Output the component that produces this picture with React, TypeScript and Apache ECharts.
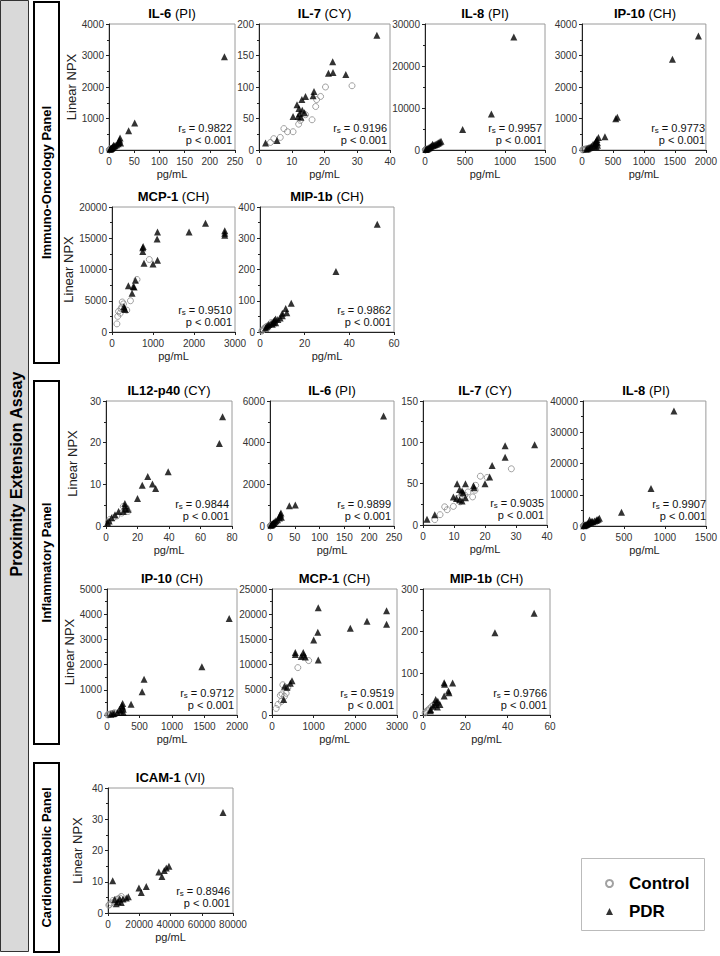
import React, { useEffect, useRef } from "react";
import * as echarts from "echarts";

// ---------- data (x = pg/mL, y = Linear NPX) ----------
const il6IoControl = [[0.5,5],[1,10],[1.5,15],[2,20],[2.5,28],[3,30],[4,40],[1,8]];
const il6IoPdr = [[229,2960],[51,860],[39,610],[22,380],[21,320],[20,260],[23,220],[18,200],[15,170],[12,140],[10,120],[8,100],[7,80],[6,70],[5,55],[4,45],[3,35],[2,25],[9,150],[19,240]];

const il7IoControl = [[3.5,12],[4.5,18],[6.5,20],[7.6,34],[8.7,29],[10.4,29],[12.1,41],[12.6,47],[14.2,56],[16.2,48],[17.3,69],[17.6,80],[18.8,85],[20.3,100],[28.4,102]];
const il7IoPdr = [[2,11],[5.5,15],[10.4,53],[11.6,72],[11.9,53],[12.4,58],[13.2,63],[13.9,59],[13.1,80],[14.2,85],[12.8,52],[12.2,66],[16.5,86],[16.8,93],[21.2,122],[22.6,123],[22.5,140],[26.5,120],[36,182]];

const il8IoControl = [[3,30],[5,50],[8,60],[10,80],[12,90],[15,120],[20,150],[25,200]];
const il8IoPdr = [[1110,26900],[830,8600],[470,4900],[200,2100],[185,1900],[170,1750],[160,1600],[145,1450],[130,1300],[115,1200],[95,1350],[80,950],[70,800],[60,650],[50,520],[40,400],[30,300],[20,200],[10,100],[100,1050]];

const ip10IoControl = [[10,5],[20,10],[30,15],[40,20],[60,30],[80,40],[100,50],[120,60]];
const ip10IoPdr = [[1880,3620],[1460,2880],[570,1040],[545,990],[370,420],[265,400],[240,330],[230,280],[220,250],[210,200],[250,150],[200,120],[180,180],[150,120],[130,90],[110,60],[90,40],[70,20],[250,230],[230,100]];

const mcp1IoControl = [[120,1300],[140,2500],[160,3300],[200,3000],[220,3700],[240,4000],[250,4800],[280,4500],[360,3500],[450,5000],[610,8400],[910,11600]];
const mcp1IoPdr = [[1880,16000],[2280,17400],[2750,16200],[2750,15800],[2750,15500],[1110,16000],[1100,14900],[1110,11500],[1000,10900],[750,13500],[750,12900],[760,13700],[780,11000],[570,8300],[520,7300],[540,7200],[400,7400],[490,6200],[290,4100],[300,3800],[320,3600]];

const mip1bIoControl = [[0.8,3],[1,5],[1.5,8],[2,12],[2.5,15],[3,18],[4,22],[5,30]];
const mip1bIoPdr = [[52.5,345],[34,194],[14,92],[11.5,75],[12,62],[10,60],[10,52],[9,45],[7,42],[6.5,38],[6,34],[6,30],[5,28],[4,24],[3.5,20],[3,17],[2.5,13],[8,40],[7,30],[5.5,25]];

const il12InfControl = [[11,4.7],[13,4.3],[14,3.5],[10,3.1],[6.8,2.4],[4.7,2],[2.5,1.6],[1.5,0.9]];
const il12InfPdr = [[74,26.2],[72,19.8],[39.5,13],[26.5,11.9],[23,9.8],[29.5,10.1],[31.5,9],[20,6.6],[12,5.4],[12,4.8],[12.5,4.1],[8,3.5],[5.7,2.7],[3.6,2],[2,1.2],[11,3.5],[14,4],[1,0.8]];

const il6InfControl = [[0.5,8],[1,12],[1,15],[1.5,20],[2,25],[2.5,40],[3,35],[4,50]];
const il6InfPdr = [[229,5280],[51,1010],[39,970],[22,620],[21,560],[20,480],[23,420],[19,380],[15,300],[12,250],[10,200],[8,160],[6,120],[5,100],[4,80],[3,60],[2,40],[7,150]];

const il7InfControl = [[3.8,6.5],[5.5,12.5],[7,22],[7.8,18.5],[9.8,22.5],[12,28],[13.5,36],[16,34],[16.8,42],[17,48],[18.5,59],[20.7,57.5],[28.5,68],[12.5,38],[11,32],[14.5,40]];
const il7InfPdr = [[1.3,7],[3.8,12.5],[36,97],[26.5,96],[26.5,82],[22.3,72],[21.5,58],[20,50],[16.3,47.5],[16.5,45],[13.7,50],[11,50],[11.8,43],[12.6,41],[12.9,39],[9.8,34],[10.8,32],[11.8,30.5],[12.6,29],[13.7,33]];

const il8InfControl = [[3,40],[5,60],[8,80],[10,100],[12,120],[15,160],[20,200],[25,250]];
const il8InfPdr = [[1110,36800],[830,12000],[470,4400],[200,2500],[185,2200],[170,2000],[160,1800],[140,1600],[120,1400],[100,1300],[80,1900],[70,1000],[60,800],[50,600],[40,500],[30,350],[20,250],[10,120],[110,1500],[90,1100]];

const ip10InfControl = [[10,5],[20,10],[30,20],[40,30],[60,40],[80,60],[100,70],[120,90]];
const ip10InfPdr = [[1880,3830],[1460,1910],[570,1420],[540,920],[370,430],[240,460],[240,320],[250,230],[210,160],[160,100],[110,60],[60,30],[250,100],[190,220],[230,380],[90,50]];

const mcp1InfControl = [[100,1300],[145,2100],[200,3900],[225,2700],[240,4200],[260,6000],[300,3700],[340,4300],[380,5400],[620,9400],[880,10800]];
const mcp1InfPdr = [[1110,21300],[1100,16400],[1000,14900],[1110,10900],[1880,17200],[2280,18600],[2750,20700],[2750,18000],[560,12400],[560,12000],[750,12400],[760,11900],[700,11600],[800,11500],[480,6800],[440,6300],[300,5700],[360,5500],[280,3100]];

const mip1bInfControl = [[1,5],[1.5,8],[2,10],[2.5,12],[3,15],[4,20],[5,24],[6,28]];
const mip1bInfPdr = [[52.5,242],[34,196],[14,76],[10,77],[10.2,73],[12,57],[12.3,53],[10,45],[7,33],[6.3,30],[5.5,25],[4.7,21],[3.6,13],[3.5,10],[6,37],[8,25],[6.8,19]];

const icam1Control = [[500,2.5],[1000,2.7],[2100,3.2],[3200,4],[4300,3.7],[5300,4.3],[6400,4.5],[7500,4.8],[8500,5.3]];
const icam1Pdr = [[73600,32.2],[3000,10.3],[39000,15],[37300,14.4],[36000,13.6],[34500,11.7],[32500,13.1],[24500,8.5],[19800,8],[21300,6.6],[13000,5.2],[11700,4.8],[9600,4.5],[7500,4.5],[8500,3.4],[5300,3],[6400,3.7],[4300,4.3]];

const panelNames = ["IL-6", "IL-7", "IL-8", "IP-10", "MCP-1", "MIP-1b", "IL12-p40", "IL-6", "IL-7", "IL-8", "IP-10", "MCP-1", "MIP-1b", "ICAM-1"];
const panelSources = ["(PI)", "(CY)", "(PI)", "(CH)", "(CH)", "(CH)", "(CY)", "(PI)", "(CY)", "(PI)", "(CH)", "(CH)", "(CH)", "(VI)"];
const panelRs = ["0.9822", "0.9196", "0.9957", "0.9773", "0.9510", "0.9862", "0.9844", "0.9899", "0.9035", "0.9907", "0.9712", "0.9519", "0.9766", "0.8946"];
const xMaxes = [250, 40, 1500, 2000, 3000, 60, 80, 250, 40, 1500, 2000, 3000, 60, 80000];
const xSteps = [50, 10, 500, 500, 1000, 20, 20, 50, 10, 500, 500, 1000, 20, 20000];
const yMaxes = [4000, 200, 30000, 4000, 20000, 400, 30, 6000, 150, 40000, 5000, 25000, 300, 40];
const ySteps = [1000, 50, 10000, 1000, 5000, 100, 10, 2000, 50, 10000, 1000, 5000, 100, 10];
const controlSets = [il6IoControl, il7IoControl, il8IoControl, ip10IoControl, mcp1IoControl, mip1bIoControl, il12InfControl, il6InfControl, il7InfControl, il8InfControl, ip10InfControl, mcp1InfControl, mip1bInfControl, icam1Control];
const pdrSets = [il6IoPdr, il7IoPdr, il8IoPdr, ip10IoPdr, mcp1IoPdr, mip1bIoPdr, il12InfPdr, il6InfPdr, il7InfPdr, il8InfPdr, ip10InfPdr, mcp1InfPdr, mip1bInfPdr, icam1Pdr];
const seriesNames = ["Control", "PDR"];
const panelGroups = ["Immuno-Oncology Panel", "Inflammatory Panel", "Cardiometabolic Panel"];
const assayName = "Proximity Extension Assay";
const xAxisName = "pg/mL";
const yAxisName = "Linear NPX";

// ---------- layout (pixels) ----------
// [left, top, width, height, showYName]
const gridLayout: [number, number, number, number, boolean][] = [
  [109, 24, 126, 126, true],
  [259, 24, 131, 126, false],
  [425, 24, 120, 126, false],
  [582, 24, 126, 126, false],
  [112, 207, 123, 125, true],
  [260, 207, 134, 125, false],
  [106, 401, 126, 125, true],
  [270, 401, 124, 125, false],
  [423, 401, 124, 124, false],
  [583, 401, 126, 125, false],
  [107, 589, 130, 126, true],
  [272, 589, 125, 126, false],
  [423, 589, 127, 126, false],
  [108, 788, 125, 125, true],
];
const groupBoxes = [
  [34, 2, 25, 361],
  [34, 381, 25, 363],
  [34, 763, 25, 189],
];

const FONT = "'Liberation Sans', Arial, Helvetica, sans-serif";
const plainNumber = (v: number) => String(v);

export default function App() {
  const ref = useRef<HTMLDivElement>(null);

  useEffect(() => {
    if (!ref.current) return;
    const chart = echarts.init(ref.current, undefined, { renderer: "svg" });

    const grids: any[] = [];
    const xAxes: any[] = [];
    const yAxes: any[] = [];
    const series: any[] = [];
    const graphics: any[] = [];

    // left decorations
    graphics.push({
      type: "rect",
      shape: { x: 0.5, y: 0.5, width: 28, height: 951 },
      style: { fill: "#d9d9d9", stroke: "#333", lineWidth: 1 },
      z: 1,
    });
    graphics.push({
      type: "text",
      x: 16,
      y: 474,
      rotation: Math.PI / 2,
      style: {
        text: assayName,
        font: `bold 16px ${FONT}`,
        fill: "#000",
        textAlign: "center",
        textVerticalAlign: "middle",
        align: "center",
        verticalAlign: "middle",
      },
      z: 2,
    });
    groupBoxes.forEach((b, i) => {
      graphics.push({
        type: "rect",
        shape: { x: b[0], y: b[1], width: b[2], height: b[3] },
        style: { fill: "#fff", stroke: "#000", lineWidth: 2 },
        z: 1,
      });
      graphics.push({
        type: "text",
        x: b[0] + b[2] / 2,
        y: b[1] + b[3] / 2,
        rotation: Math.PI / 2,
        style: {
          text: panelGroups[i],
          font: `bold 13px ${FONT}`,
          fill: "#000",
          textAlign: "center",
          textVerticalAlign: "middle",
          align: "center",
          verticalAlign: "middle",
        },
        z: 2,
      });
    });

    // legend box
    graphics.push({
      type: "rect",
      shape: { x: 581.5, y: 858.5, width: 123, height: 72 },
      style: { fill: "none", stroke: "#bbb", lineWidth: 1 },
      z: 1,
    });

    gridLayout.forEach((g, i) => {
      const [left, top, width, height, showY] = g;
      grids.push({
        left,
        top,
        width,
        height,
        show: true,
        borderColor: "#9a9a9a",
        borderWidth: 1,
        backgroundColor: "transparent",
        containLabel: false,
      });
      xAxes.push({
        type: "value",
        gridIndex: i,
        min: 0,
        max: xMaxes[i],
        interval: xSteps[i],
        name: xAxisName,
        nameLocation: "middle",
        nameGap: 18,
        nameTextStyle: { fontSize: 11, color: "#222", fontFamily: FONT },
        axisLine: { show: true, onZero: false, lineStyle: { color: "#222", width: 1 } },
        axisTick: { show: true, inside: false, length: 3, lineStyle: { color: "#222" } },
        axisLabel: { fontSize: 10, color: "#333", margin: 6, fontFamily: FONT, formatter: plainNumber },
        splitLine: { show: false },
      });
      yAxes.push({
        type: "value",
        gridIndex: i,
        min: 0,
        max: yMaxes[i],
        interval: ySteps[i],
        name: showY ? yAxisName : "",
        nameLocation: "middle",
        nameGap: left - (i === 13 ? 77 : 72) - 6.5,
        nameTextStyle: { fontSize: 13, color: "#222", fontFamily: FONT },
        axisLine: { show: true, onZero: false, lineStyle: { color: "#222", width: 1 } },
        axisTick: { show: true, inside: false, length: 3, lineStyle: { color: "#222" } },
        minorTick: { show: true, splitNumber: 2, length: 2, lineStyle: { color: "#222" } },
        axisLabel: { fontSize: 10, color: "#333", margin: 5, fontFamily: FONT, formatter: plainNumber },
        splitLine: { show: false },
        minorSplitLine: { show: false },
      });
      series.push({
        type: "scatter",
        name: seriesNames[0],
        xAxisIndex: i,
        yAxisIndex: i,
        data: controlSets[i],
        symbol: "circle",
        symbolSize: 6,
        itemStyle: { color: "rgba(255,255,255,0)", borderColor: "#8a8a8a", borderWidth: 1 },
        silent: true,
        z: 2,
      });
      series.push({
        type: "scatter",
        name: seriesNames[1],
        xAxisIndex: i,
        yAxisIndex: i,
        data: pdrSets[i],
        symbol: "triangle",
        symbolSize: 7,
        itemStyle: { color: "#000" },
        silent: true,
        z: 3,
      });

      // panel title
      graphics.push({
        type: "text",
        x: left + width / 2,
        y: top - 11,
        style: {
          text: `{b|${panelNames[i]}} {n|${panelSources[i]}}`,
          font: `13px ${FONT}`,
          fill: "#000",
          textAlign: "center",
          textVerticalAlign: "middle",
          align: "center",
          verticalAlign: "middle",
          rich: {
            b: { fontSize: 13, fontWeight: "bold", fontFamily: FONT, fill: "#000", color: "#000" },
            n: { fontSize: 13, fontFamily: FONT, fill: "#000", color: "#000" },
          },
        },
        z: 5,
      });
      // correlation annotation
      graphics.push({
        type: "text",
        x: left + width - 3,
        y: top + height - 4,
        style: {
          text: `{t|r}{s|s}{t| = ${panelRs[i]}}\n{t|p < 0.001}`,
          font: `11px ${FONT}`,
          fill: "#111",
          textAlign: "right",
          textVerticalAlign: "bottom",
          align: "right",
          verticalAlign: "bottom",
          rich: {
            t: { fontSize: 11, lineHeight: 12, fontFamily: FONT, fill: "#111", color: "#111", verticalAlign: "middle" },
            s: { fontSize: 8, lineHeight: 12, fontFamily: FONT, fill: "#111", color: "#111", verticalAlign: "bottom", padding: [3, 0, 0, 0] },
          },
        },
        z: 5,
      });
    });

    chart.setOption({
      animation: false,
      backgroundColor: "#fff",
      textStyle: { fontFamily: FONT },
      grid: grids,
      xAxis: xAxes,
      yAxis: yAxes,
      series,
      legend: {
        data: [
          { name: seriesNames[0], icon: "circle" },
          { name: seriesNames[1], icon: "triangle" },
        ],
        orient: "vertical",
        left: 600,
        top: 870,
        itemWidth: 7,
        itemHeight: 7,
        itemGap: 11,
        selectedMode: false,
        textStyle: {
          fontSize: 17,
          fontWeight: "bold",
          color: "#000",
          fontFamily: FONT,
          lineHeight: 16,
          padding: [0, 0, 0, 11],
        },
      },
      graphic: graphics,
    });

    return () => chart.dispose();
  }, []);

  return (
    <div
      ref={ref}
      style={{ position: "fixed", left: 0, top: 0, width: 720, height: 956, background: "#fff" }}
    />
  );
}
